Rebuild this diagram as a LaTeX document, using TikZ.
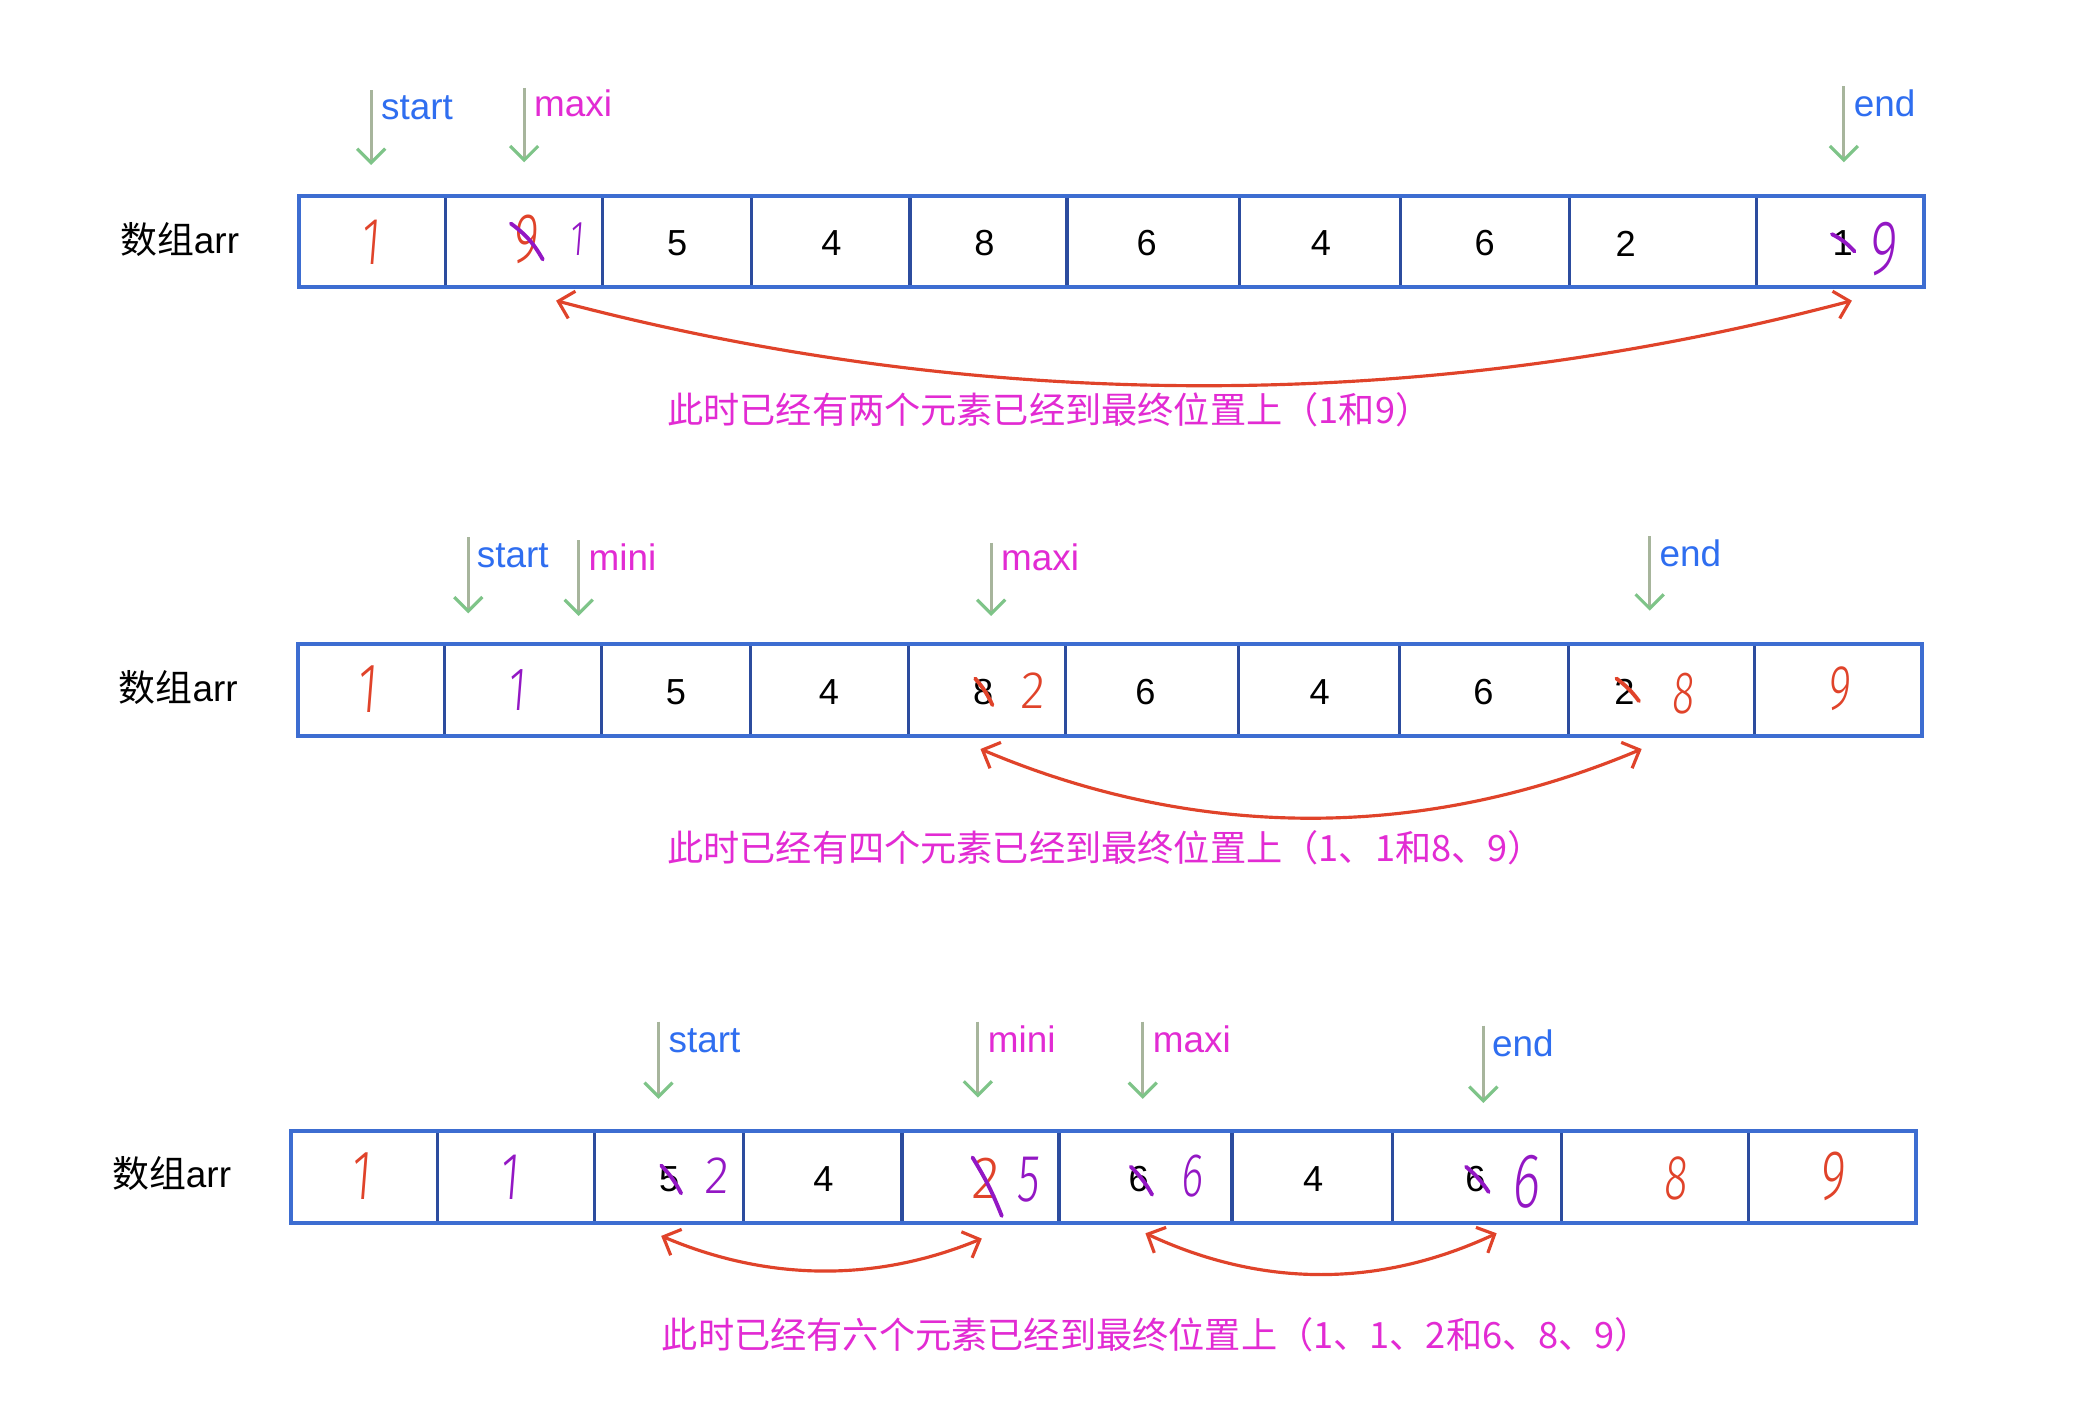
\documentclass[tikz,border=0pt]{standalone}
\usepackage{fontspec}
\setmainfont{Liberation Sans}
\newfontfamily\cjk{Noto Sans CJK SC}
\newfontfamily\hand{Fira Sans Light}
\usetikzlibrary{arrows.meta}
\definecolor{cblue}{HTML}{2F6EF0}
\definecolor{cmag}{HTML}{E22BD3}
\definecolor{boxblue}{HTML}{3D6DD1}
\definecolor{divblue}{HTML}{2C4C9E}
\definecolor{hred}{HTML}{E0432A}
\definecolor{hpur}{HTML}{9317C4}
\definecolor{pshaft}{HTML}{A7B59C}
\definecolor{ptip}{HTML}{7EC488}
\begin{document}
\begin{tikzpicture}[x=0.013304cm,y=-0.013304cm,
  cell/.style={draw=divblue, line width=0.9pt, inner sep=0, outer sep=0, minimum height=0.918cm},
  frame/.style={draw=boxblue, line width=1.1pt},
  ptr/.style={draw=pshaft, line width=0.8pt, -{Straight Barb[length=4pt,width=8pt,color=ptip,line width=0.9pt]}},
  lbl/.style={anchor=west, inner sep=0, font=\fontsize{10.5}{12}\selectfont},
  arrlbl/.style={inner sep=0, font=\fontsize{10.5}{12}\selectfont},
  num/.style={inner sep=0, font=\fontsize{10.3}{12}\selectfont},
  hw/.style={inner sep=0, xslant=0.08, xscale=0.68, font={\hand\fontsize{#1}{#1}\selectfont}},
  hwide/.style={inner sep=0, xslant=0.05, xscale=0.95, font={\hand\fontsize{#1}{#1}\selectfont}},
  xs/.style={line width=1.1pt, line cap=round},
  swap/.style={draw=hred, line width=0.9pt, {Straight Barb[length=4pt,width=8pt]}-{Straight Barb[length=4pt,width=8pt]}},
  captxt/.style={anchor=west, inner sep=0, text=cmag, font={\cjk\fontsize{10.3}{12}\selectfont}}
]
\useasboundingbox (0,0) rectangle (1568,1067);
\fill[white] (0,0) rectangle (1568,1067);

% ---- arrays ----
\foreach \r/\o/\yc in {1/0/181.5, 2/-1/518.5, 3/-6/884.5}{
  \foreach \a/\b [count=\i] in {225/335,335/453,453/565,565/684,684/802,802/932,932/1053,1053/1180,1180/1320,1320/1446}{
    \pgfmathsetmacro\w{(\b-\a)*0.013304}
    \node[cell, minimum width=\w cm] (r\r-\i) at ({(\a+\b)/2+\o},\yc) {};
  }
  \draw[frame] (225+\o,\yc-34.5) rectangle (1446+\o,\yc+34.5);
}

\node[arrlbl] (n1) at (135,180) {{\cjk 数组}arr};
\node[arrlbl] (n2) at (134,517) {{\cjk 数组}arr};
\node[arrlbl] (n3) at (129,882) {{\cjk 数组}arr};

% ---- row 1 ----
\coordinate (a1s) at (279,68);   \coordinate (b1s) at (279,124);
\coordinate (a1x) at (394,66);   \coordinate (b1x) at (394,122);
\coordinate (a1e) at (1386,65);  \coordinate (b1e) at (1386,122);
\draw[ptr] (a1s) -- (b1s);
\draw[ptr] (a1x) -- (b1x);
\draw[ptr] (a1e) -- (b1e);
\node[lbl, text=cblue] (l1s) at (286,81) {start};
\node[lbl, text=cmag] (l1x) at (401,78) {maxi};
\node[lbl, text=cblue] (l1e) at (1393,78) {end};

\node[num] (d1-3) at (509,183) {5};
\node[num] (d1-4) at (625,183) {4};
\node[num] (d1-5) at (740,183) {8};
\node[num] (d1-6) at (862,183) {6};
\node[num] (d1-7) at (993,183) {4};
\node[num] (d1-8) at (1116,183) {6};
\node[num] (d1-9) at (1222,183) {2};
\node[num] (d1-10) at (1385,183) {1};

\node[hw=19, text=hred] (h1-1) at (279,182) {1};
\node[hw=20, text=hred] (h1-2) at (396,180) {9};
\node[hw=14, text=hpur] (h1-2b) at (434,180) {1};
\node[hw=22, text=hpur] (h1-10) at (1416,187) {9};
\draw[xs, hpur] (384,168) to[bend left=12] (408,195);
\draw[xs, hpur] (1377,176) to[bend left=10] (1394,189);

\coordinate (s1L) at (418,226); \coordinate (s1R) at (1392,226);
\draw[swap] (s1L) .. controls (740,311) and (1070,311) .. (s1R);
\node[captxt] (c1) at (501,308) {此时已经有两个元素已经到最终位置上（1和9）};

% ---- row 2 ----
\coordinate (a2s) at (352,404);  \coordinate (b2s) at (352,461);
\coordinate (a2n) at (435,406);  \coordinate (b2n) at (435,463);
\coordinate (a2x) at (745,408);  \coordinate (b2x) at (745,463);
\coordinate (a2e) at (1240,403); \coordinate (b2e) at (1240,459);
\draw[ptr] (a2s) -- (b2s);
\draw[ptr] (a2n) -- (b2n);
\draw[ptr] (a2x) -- (b2x);
\draw[ptr] (a2e) -- (b2e);
\node[lbl, text=cblue] (l2s) at (358,418) {start};
\node[lbl, text=cmag] (l2n) at (442,419) {mini};
\node[lbl, text=cmag] (l2x) at (752,419) {maxi};
\node[lbl, text=cblue] (l2e) at (1247,416) {end};

\node[num] (d2-3) at (508,520) {5};
\node[num] (d2-4) at (623,520) {4};
\node[num] (d2-5) at (739,520) {8};
\node[num] (d2-6) at (861,520) {6};
\node[num] (d2-7) at (992,520) {4};
\node[num] (d2-8) at (1115,520) {6};
\node[num] (d2-9) at (1221,520) {2};

\node[hw=20, text=hred] (h2-1) at (277,518) {1};
\node[hw=17.5, text=hpur] (h2-2) at (389,519) {1};
\node[hwide=15, text=hred] (h2-5) at (777,519) {2};
\node[hw=17, text=hred] (h2-9) at (1266,521) {8};
\node[hw=18, text=hred] (h2-10) at (1383,518) {9};
\draw[xs, hred] (733,510) to[bend left=8] (746,530);
\draw[xs, hred] (1215,510) to[bend left=8] (1232,527);

\coordinate (s2L) at (737,563); \coordinate (s2R) at (1234,563);
\draw[swap] (s2L) .. controls (900,632) and (1070,632) .. (s2R);
\node[captxt] (c2) at (501,637) {此时已经有四个元素已经到最终位置上（1、1和8、9）};

% ---- row 3 ----
\coordinate (a3s) at (495,768);  \coordinate (b3s) at (495,826);
\coordinate (a3n) at (735,768);  \coordinate (b3n) at (735,825);
\coordinate (a3x) at (859,768);  \coordinate (b3x) at (859,826);
\coordinate (a3e) at (1115,771); \coordinate (b3e) at (1115,829);
\draw[ptr] (a3s) -- (b3s);
\draw[ptr] (a3n) -- (b3n);
\draw[ptr] (a3x) -- (b3x);
\draw[ptr] (a3e) -- (b3e);
\node[lbl, text=cblue] (l3s) at (502,782) {start};
\node[lbl, text=cmag] (l3n) at (742,781) {mini};
\node[lbl, text=cmag] (l3x) at (866,781) {maxi};
\node[lbl, text=cblue] (l3e) at (1121,784) {end};

\node[num] (d3-3) at (503,886) {5};
\node[num] (d3-4) at (619,886) {4};
\node[num] (d3-6) at (856,886) {6};
\node[num] (d3-7) at (987,886) {4};
\node[num] (d3-8) at (1109,886) {6};

\node[hw=20, text=hred] (h3-1) at (272,884) {1};
\node[hw=19, text=hpur] (h3-2) at (384,885) {1};
\node[hwide=15, text=hpur] (h3-3) at (539,884) {2};
\node[hwide=17, text=hred] (h3-5) at (741,886) {2};
\node[hw=19, text=hpur] (h3-5b) at (774,887) {5};
\node[hw=17.5, text=hpur] (h3-6) at (897,884) {6};
\node[hw=22, text=hpur] (h3-8) at (1148,888) {6};
\node[hw=18, text=hred] (h3-9) at (1260,886) {8};
\node[hw=20, text=hred] (h3-10) at (1378,884) {9};
\draw[xs, hpur] (497,876) to[bend left=8] (512,897);
\draw[xs, hpur] (731,870) to[bend left=5] (753,914);
\draw[xs, hpur] (850,877) to[bend left=8] (866,898);
\draw[xs, hpur] (1102,877) to[bend left=8] (1119,896);

\coordinate (s3L) at (497,929); \coordinate (s3R) at (738,931);
\draw[swap] (s3L) .. controls (577,963) and (658,964) .. (s3R);
\coordinate (s4L) at (861,927); \coordinate (s4R) at (1125,927);
\draw[swap] (s4L) .. controls (949,968) and (1037,968) .. (s4R);
\node[captxt] (c3) at (497,1003) {此时已经有六个元素已经到最终位置上（1、1、2和6、8、9）};
\end{tikzpicture}
\end{document}
